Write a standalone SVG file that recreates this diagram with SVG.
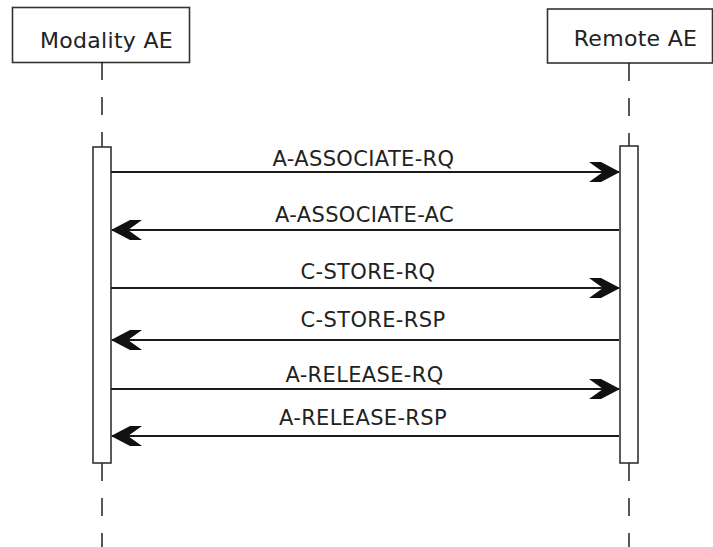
<svg xmlns="http://www.w3.org/2000/svg" width="713" height="547" viewBox="0 0 713 547">
<style>
.box{fill:#fff;stroke:#333;stroke-width:1.6}
.act{fill:#fff;stroke:#333;stroke-width:1.6}
.life{stroke:#222;stroke-width:1.5;stroke-dasharray:18 17;fill:none}
.msg{stroke:#1a1a1a;stroke-width:2.2;fill:none;marker-end:url(#arr)}
.t{font-family:"DejaVu Sans",Verdana,sans-serif;font-size:22px;letter-spacing:0.3px;fill:#222;text-anchor:middle}
.lbl{font-family:"DejaVu Sans",Verdana,sans-serif;font-size:21px;letter-spacing:0.35px;fill:#222;text-anchor:middle}
</style>
<defs>
<marker id="arr" markerUnits="userSpaceOnUse" markerWidth="40" markerHeight="30" refX="0" refY="0" orient="auto" overflow="visible">
<path d="M1 0 L-18 -10 L-30 -10 L-16 0 L-30 10 L-18 10 Z" fill="#111"/>
</marker>
</defs>
<g id="modality">
<rect class="box" x="12.5" y="7.5" width="177" height="55"/>
<text class="t" x="106.5" y="47.5">Modality AE</text>
<line class="life" x1="102" y1="62" x2="102" y2="147"/>
<line class="life" x1="102" y1="463" x2="102" y2="547"/>
<rect class="act" x="93" y="147" width="18" height="316"/>
</g>
<g id="remote">
<rect class="box" x="547.5" y="9" width="165" height="54"/>
<text class="t" x="635.5" y="45.5">Remote AE</text>
<line class="life" x1="629" y1="63" x2="629" y2="146"/>
<line class="life" x1="629" y1="463" x2="629" y2="547"/>
<rect class="act" x="620" y="146" width="18" height="317"/>
</g>
<g id="connectors">
<path class="msg" d="M111 172 H619"/>
<path class="msg" d="M619 230 H112"/>
<path class="msg" d="M111 288 H619"/>
<path class="msg" d="M619 340 H112"/>
<path class="msg" d="M111 389 H619"/>
<path class="msg" d="M619 436 H112"/>
<text class="lbl" x="363.5" y="165.5">A-ASSOCIATE-RQ</text>
<text class="lbl" x="364.5" y="221.5">A-ASSOCIATE-AC</text>
<text class="lbl" x="368" y="278.5">C-STORE-RQ</text>
<text class="lbl" x="373" y="326.5">C-STORE-RSP</text>
<text class="lbl" x="364.5" y="381.5">A-RELEASE-RQ</text>
<text class="lbl" x="363" y="425">A-RELEASE-RSP</text>
</g>
</svg>
